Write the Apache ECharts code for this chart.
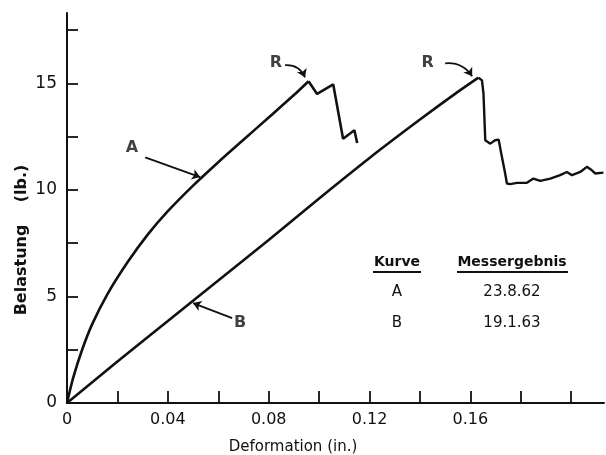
<!DOCTYPE html>
<html>
<head>
<meta charset="utf-8">
<script src="https://cdn.jsdelivr.net/npm/echarts@6/dist/echarts.min.js"></script>
<style>
html,body{margin:0;padding:0;background:#fff;}
#c{width:606px;height:455px;}
</style>
</head>
<body>
<div id="c"></div>
<script>
// Curve A (23.8.62): rising part and post-peak part
var aRiseX = [0, 0.0025, 0.006, 0.010, 0.016, 0.024, 0.032, 0.040, 0.050, 0.060, 0.070, 0.080, 0.090, 0.0958];
var aRiseY = [0, 1.2, 2.5, 3.7, 5.1, 6.6, 7.9, 9.0, 10.2, 11.3, 12.35, 13.4, 14.45, 15.1];
var aPostX = [0.0958, 0.0992, 0.1056, 0.1095, 0.114, 0.1151];
var aPostY = [15.1, 14.5, 14.95, 12.4, 12.8, 12.2];
// Curve B (19.1.63)
var bRiseX = [0, 0.02, 0.04, 0.06, 0.08, 0.10, 0.12, 0.14, 0.155, 0.1632];
var bRiseY = [0, 1.95, 3.85, 5.75, 7.65, 9.6, 11.5, 13.3, 14.6, 15.27];
var bPostX = [0.1632, 0.1646, 0.1652, 0.1659, 0.1679, 0.1698, 0.1712, 0.1725, 0.1738, 0.1745, 0.1758, 0.1785, 0.1824, 0.1850, 0.1877, 0.1917, 0.1956, 0.1983, 0.2003, 0.2036, 0.2062, 0.2082, 0.2095, 0.2128];
var bPostY = [15.27, 15.14, 14.52, 12.33, 12.17, 12.33, 12.36, 11.55, 10.77, 10.3, 10.27, 10.33, 10.33, 10.53, 10.42, 10.53, 10.69, 10.84, 10.69, 10.84, 11.08, 10.92, 10.77, 10.81];

var xTicks = [0, 0.02, 0.04, 0.06, 0.08, 0.10, 0.12, 0.14, 0.16, 0.18, 0.20];
var xLabels = [0, 0.04, 0.08, 0.12, 0.16];
var yTicks = [0, 2.5, 5, 7.5, 10, 12.5, 15, 17.5];
var yLabels = [0, 5, 10, 15];

var xTitle = 'Deformation (in.)';
var yTitle = 'Belastung    (lb.)';
var tableHead = ['Kurve', 'Messergebnis'];
var tableRows = [['A', '23.8.62'], ['B', '19.1.63']];

// annotation letters and arrows (data coordinates)
var letters = [
  {t: 'A', x: 0.0258, y: 11.95},
  {t: 'B', x: 0.0687, y: 3.75},
  {t: 'R', x: 0.0829, y: 15.94},
  {t: 'R', x: 0.1431, y: 15.96}
];
var arrows = [
  {from: [0.031, 11.53], to: [0.0528, 10.6], curve: 0},
  {from: [0.0655, 3.98], to: [0.0500, 4.69], curve: 0},
  {from: [0.0865, 15.85], to: [0.0944, 15.28], curve: 0.35},
  {from: [0.1500, 15.94], to: [0.1607, 15.33], curve: 0.3}
];

function zip(xs, ys) { return xs.map(function (x, i) { return [x, ys[i]]; }); }

var INK = '#111';
var FONT = 'DejaVu Sans';

var lineStyleMain = {color: INK, width: 2.6};

var chart = echarts.init(document.getElementById('c'), null, {renderer: 'canvas'});

function txt(x, y, s, font, rot) {
  return {
    type: 'text', x: x, y: y, rotation: rot || 0,
    style: {text: s, fill: INK, font: font, textAlign: 'center', textVerticalAlign: 'middle'}
  };
}

var option = {
  animation: false,
  backgroundColor: '#fff',
  grid: {left: 67, right: 2, top: 13, bottom: 52, containLabel: false},
  xAxis: {
    type: 'value', min: 0, max: 0.213, interval: 0.02,
    axisLine: {show: true, lineStyle: {color: INK, width: 2}},
    axisTick: {show: true, inside: true, length: 12, lineStyle: {color: INK, width: 1.8}, customValues: xTicks},
    axisLabel: {
      show: true, margin: 9, color: INK, fontFamily: FONT, fontSize: 16, customValues: xLabels,
      formatter: function (v) {
        var r = v / 0.04;
        if (Math.abs(r - Math.round(r)) > 1e-6 || v > 0.17) return '';
        return v === 0 ? '0' : v.toFixed(2);
      }
    },
    splitLine: {show: false}
  },
  yAxis: {
    type: 'value', min: 0, max: 18.3, interval: 2.5,
    axisLine: {show: true, lineStyle: {color: INK, width: 2}},
    axisTick: {show: true, inside: true, length: 11, lineStyle: {color: INK, width: 1.8}, customValues: yTicks},
    axisLabel: {
      show: true, margin: 10, color: INK, fontFamily: FONT, fontSize: 17, customValues: yLabels,
      formatter: function (v) {
        return (Math.abs(v / 5 - Math.round(v / 5)) < 1e-6) ? String(v) : '';
      }
    },
    splitLine: {show: false}
  },
  series: [
    {type: 'line', data: zip(aRiseX, aRiseY), smooth: 0.3, showSymbol: false, symbol: 'none', lineStyle: lineStyleMain, z: 3},
    {type: 'line', data: zip(aPostX, aPostY), smooth: false, showSymbol: false, symbol: 'none', lineStyle: lineStyleMain, z: 3},
    {type: 'line', data: zip(bRiseX, bRiseY), smooth: 0.3, showSymbol: false, symbol: 'none', lineStyle: lineStyleMain, z: 3},
    {type: 'line', data: zip(bPostX, bPostY), smooth: false, showSymbol: false, symbol: 'none', lineStyle: {color: INK, width: 2.4}, z: 3},
    {
      type: 'lines', coordinateSystem: 'cartesian2d', polyline: false,
      symbol: ['none', 'arrow'], symbolSize: 8,
      lineStyle: {color: INK, width: 1.8, opacity: 1},
      data: arrows.map(function (a) {
        return {coords: [a.from, a.to], lineStyle: {curveness: a.curve}};
      }),
      z: 4
    },
    {
      type: 'scatter', symbolSize: 0,
      data: letters.map(function (l) { return {value: [l.x, l.y], name: l.t}; }),
      label: {
        show: true, position: 'inside', formatter: function (p) { return p.name; },
        color: INK, fontFamily: FONT, fontSize: 16, fontWeight: 'bold'
      },
      z: 5
    }
  ],
  graphic: [
    txt(293, 447, xTitle, '15px "' + FONT + '"'),
    txt(22, 240, yTitle, 'bold 16px "' + FONT + '"', Math.PI / 2),
    txt(397, 262, tableHead[0], 'bold 14px "' + FONT + '"'),
    txt(512, 262, tableHead[1], 'bold 14px "' + FONT + '"'),
    {type: 'line', shape: {x1: 373, y1: 272, x2: 421, y2: 272}, style: {stroke: INK, lineWidth: 1.8}},
    {type: 'line', shape: {x1: 457, y1: 272, x2: 568, y2: 272}, style: {stroke: INK, lineWidth: 1.8}},
    txt(397, 292, tableRows[0][0], '15px "' + FONT + '"'),
    txt(512, 292, tableRows[0][1], '15px "' + FONT + '"'),
    txt(397, 323, tableRows[1][0], '15px "' + FONT + '"'),
    txt(512, 323, tableRows[1][1], '15px "' + FONT + '"')
  ]
};
chart.setOption(option);
</script>
</body>
</html>
